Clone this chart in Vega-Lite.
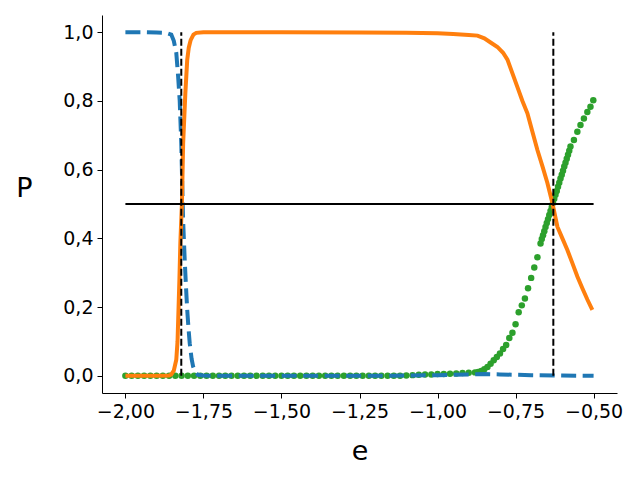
{
  "$schema": "https://vega.github.io/schema/vega-lite/v6.json",
  "width": 515,
  "height": 378,
  "autosize": {"type": "none"},
  "padding": {"left": 102, "top": 15, "right": 23, "bottom": 87},
  "config": {
    "locale": {"number": {"decimal": ",", "thousands": ".", "grouping": [3], "currency": ["", "€"], "minus": "−"}},
    "view": {"stroke": null},
    "axis": {
      "grid": false, "domainColor": "black", "tickColor": "black", "labelColor": "black", "titleColor": "black",
      "labelFont": "DejaVu Sans", "titleFont": "DejaVu Sans", "labelFontSize": 19, "titleFontSize": 27,
      "titleFontWeight": "normal", "tickSize": 5, "labelPadding": 4, "domainWidth": 1, "tickWidth": 1
    }
  },
  "datasets": {
    "blue": [
      {"x": -2.0, "y": 1}, {"x": -1.95, "y": 1}, {"x": -1.9, "y": 0.999}, {"x": -1.87, "y": 0.998},
      {"x": -1.853, "y": 0.993}, {"x": -1.845, "y": 0.975}, {"x": -1.837, "y": 0.94}, {"x": -1.831, "y": 0.87},
      {"x": -1.826, "y": 0.8}, {"x": -1.821, "y": 0.676}, {"x": -1.818, "y": 0.56}, {"x": -1.815, "y": 0.45},
      {"x": -1.81, "y": 0.337}, {"x": -1.806, "y": 0.26}, {"x": -1.802, "y": 0.192}, {"x": -1.798, "y": 0.14},
      {"x": -1.794, "y": 0.095}, {"x": -1.788, "y": 0.05}, {"x": -1.783, "y": 0.027}, {"x": -1.775, "y": 0.01},
      {"x": -1.768, "y": 0.003}, {"x": -1.75, "y": 0.001}, {"x": -1.7, "y": 0}, {"x": -1.5, "y": 0},
      {"x": -1.2, "y": 0}, {"x": -1.0, "y": 0.002}, {"x": -0.9, "y": 0.004}, {"x": -0.85, "y": 0.005},
      {"x": -0.8, "y": 0.004}, {"x": -0.7, "y": 0.002}, {"x": -0.6, "y": 0.001}, {"x": -0.5, "y": 0}
    ],
    "orange": [
      {"x": -2.0, "y": 0}, {"x": -1.9, "y": 0}, {"x": -1.86, "y": 0.001}, {"x": -1.853, "y": 0.004},
      {"x": -1.845, "y": 0.015}, {"x": -1.837, "y": 0.047}, {"x": -1.833, "y": 0.1}, {"x": -1.83, "y": 0.19},
      {"x": -1.827, "y": 0.28}, {"x": -1.824, "y": 0.386}, {"x": -1.819, "y": 0.5}, {"x": -1.815, "y": 0.677},
      {"x": -1.811, "y": 0.76}, {"x": -1.808, "y": 0.822}, {"x": -1.802, "y": 0.919}, {"x": -1.797, "y": 0.955},
      {"x": -1.791, "y": 0.977}, {"x": -1.782, "y": 0.993}, {"x": -1.773, "y": 0.998}, {"x": -1.75, "y": 1.0},
      {"x": -1.5, "y": 1.0}, {"x": -1.25, "y": 0.999}, {"x": -1.1, "y": 0.998}, {"x": -1.0, "y": 0.997},
      {"x": -0.95, "y": 0.995}, {"x": -0.9, "y": 0.992}, {"x": -0.872, "y": 0.99}, {"x": -0.85, "y": 0.982},
      {"x": -0.83, "y": 0.97}, {"x": -0.808, "y": 0.957}, {"x": -0.79, "y": 0.94}, {"x": -0.776, "y": 0.92},
      {"x": -0.76, "y": 0.88}, {"x": -0.744, "y": 0.84}, {"x": -0.728, "y": 0.8}, {"x": -0.712, "y": 0.764},
      {"x": -0.696, "y": 0.71}, {"x": -0.68, "y": 0.657}, {"x": -0.664, "y": 0.61}, {"x": -0.648, "y": 0.561},
      {"x": -0.632, "y": 0.503}, {"x": -0.616, "y": 0.434}, {"x": -0.6, "y": 0.4}, {"x": -0.584, "y": 0.366},
      {"x": -0.568, "y": 0.328}, {"x": -0.552, "y": 0.289}, {"x": -0.536, "y": 0.255}, {"x": -0.52, "y": 0.222},
      {"x": -0.504, "y": 0.192}
    ],
    "green": [
      {"x": -2.0, "y": 0}, {"x": -1.98, "y": 0}, {"x": -1.96, "y": 0}, {"x": -1.94, "y": 0}, {"x": -1.92, "y": 0},
      {"x": -1.9, "y": 0}, {"x": -1.88, "y": 0}, {"x": -1.86, "y": 0}, {"x": -1.84, "y": 0}, {"x": -1.82, "y": 0},
      {"x": -1.8, "y": 0}, {"x": -1.78, "y": 0}, {"x": -1.76, "y": 0}, {"x": -1.74, "y": 0}, {"x": -1.72, "y": 0},
      {"x": -1.7, "y": 0}, {"x": -1.68, "y": 0}, {"x": -1.66, "y": 0}, {"x": -1.64, "y": 0}, {"x": -1.62, "y": 0},
      {"x": -1.6, "y": 0}, {"x": -1.58, "y": 0}, {"x": -1.56, "y": 0}, {"x": -1.54, "y": 0}, {"x": -1.52, "y": 0},
      {"x": -1.5, "y": 0}, {"x": -1.48, "y": 0}, {"x": -1.46, "y": 0}, {"x": -1.44, "y": 0}, {"x": -1.42, "y": 0},
      {"x": -1.4, "y": 0}, {"x": -1.38, "y": 0}, {"x": -1.36, "y": 0}, {"x": -1.34, "y": 0}, {"x": -1.32, "y": 0},
      {"x": -1.3, "y": 0}, {"x": -1.28, "y": 0}, {"x": -1.26, "y": 0}, {"x": -1.24, "y": 0}, {"x": -1.22, "y": 0},
      {"x": -1.2, "y": 0}, {"x": -1.18, "y": 0}, {"x": -1.16, "y": 0}, {"x": -1.14, "y": 0}, {"x": -1.12, "y": 0},
      {"x": -1.1, "y": 0.001}, {"x": -1.08, "y": 0.002}, {"x": -1.06, "y": 0.003}, {"x": -1.04, "y": 0.004},
      {"x": -1.02, "y": 0.004}, {"x": -1.0, "y": 0.005}, {"x": -0.98, "y": 0.005}, {"x": -0.96, "y": 0.006},
      {"x": -0.94, "y": 0.007}, {"x": -0.92, "y": 0.008}, {"x": -0.9, "y": 0.009}, {"x": -0.88, "y": 0.01},
      {"x": -0.87, "y": 0.011}, {"x": -0.86, "y": 0.014}, {"x": -0.85, "y": 0.019}, {"x": -0.84, "y": 0.026},
      {"x": -0.83, "y": 0.035}, {"x": -0.82, "y": 0.045}, {"x": -0.81, "y": 0.055}, {"x": -0.8, "y": 0.065},
      {"x": -0.79, "y": 0.078}, {"x": -0.78, "y": 0.09}, {"x": -0.77, "y": 0.11}, {"x": -0.76, "y": 0.125},
      {"x": -0.75, "y": 0.15}, {"x": -0.74, "y": 0.185}, {"x": -0.73, "y": 0.205}, {"x": -0.72, "y": 0.225},
      {"x": -0.71, "y": 0.255}, {"x": -0.7, "y": 0.285}, {"x": -0.69, "y": 0.315}, {"x": -0.68, "y": 0.345},
      {"x": -0.67, "y": 0.385}, {"x": -0.666, "y": 0.398}, {"x": -0.662, "y": 0.409}, {"x": -0.658, "y": 0.421},
      {"x": -0.654, "y": 0.433}, {"x": -0.65, "y": 0.445}, {"x": -0.646, "y": 0.456}, {"x": -0.642, "y": 0.468},
      {"x": -0.638, "y": 0.48}, {"x": -0.634, "y": 0.491}, {"x": -0.63, "y": 0.503}, {"x": -0.626, "y": 0.515},
      {"x": -0.622, "y": 0.527}, {"x": -0.618, "y": 0.538}, {"x": -0.614, "y": 0.55}, {"x": -0.61, "y": 0.562},
      {"x": -0.606, "y": 0.574}, {"x": -0.602, "y": 0.585}, {"x": -0.598, "y": 0.597}, {"x": -0.594, "y": 0.609},
      {"x": -0.59, "y": 0.62}, {"x": -0.586, "y": 0.632}, {"x": -0.582, "y": 0.643}, {"x": -0.578, "y": 0.655},
      {"x": -0.574, "y": 0.667}, {"x": -0.563, "y": 0.686}, {"x": -0.552, "y": 0.71}, {"x": -0.542, "y": 0.73},
      {"x": -0.531, "y": 0.749}, {"x": -0.52, "y": 0.768}, {"x": -0.51, "y": 0.783}, {"x": -0.501, "y": 0.802}
    ],
    "vrules": [
      {"x": -1.821, "y": 0, "y2": 1},
      {"x": -0.629, "y": 0, "y2": 1}
    ],
    "hrule": [
      {"x": -2.0, "x2": -0.5, "y": 0.5}
    ]
  },
  "encoding": {
    "x": {
      "field": "x", "type": "quantitative",
      "scale": {"domain": [-2.075, -0.425], "nice": false, "zero": false},
      "axis": {
        "title": "e", "values": [-2, -1.75, -1.5, -1.25, -1, -0.75, -0.5], "format": ".2f",
        "titleY": 66, "titleBaseline": "alphabetic"
      }
    },
    "y": {
      "field": "y", "type": "quantitative",
      "scale": {"domain": [-0.05, 1.05], "nice": false, "zero": false},
      "axis": {
        "title": "P", "values": [0, 0.2, 0.4, 0.6, 0.8, 1.0], "format": ".1f",
        "titleAngle": 0, "titleX": -78, "titleY": 173, "titleAlign": "center", "titleBaseline": "middle"
      }
    }
  },
  "layer": [
    {
      "data": {"name": "green"},
      "mark": {"type": "circle", "size": 42, "color": "#2ca02c", "opacity": 1}
    },
    {
      "data": {"name": "blue"},
      "mark": {"type": "line", "color": "#1f77b4", "strokeWidth": 4, "strokeDash": [15, 6.5]}
    },
    {
      "data": {"name": "orange"},
      "mark": {"type": "line", "color": "#ff7f0e", "strokeWidth": 4}
    },
    {
      "data": {"name": "vrules"},
      "mark": {"type": "rule", "color": "black", "strokeWidth": 2, "strokeDash": [7, 3]},
      "encoding": {"y2": {"field": "y2"}}
    },
    {
      "data": {"name": "hrule"},
      "mark": {"type": "rule", "color": "black", "strokeWidth": 2},
      "encoding": {"x2": {"field": "x2"}}
    }
  ]
}
